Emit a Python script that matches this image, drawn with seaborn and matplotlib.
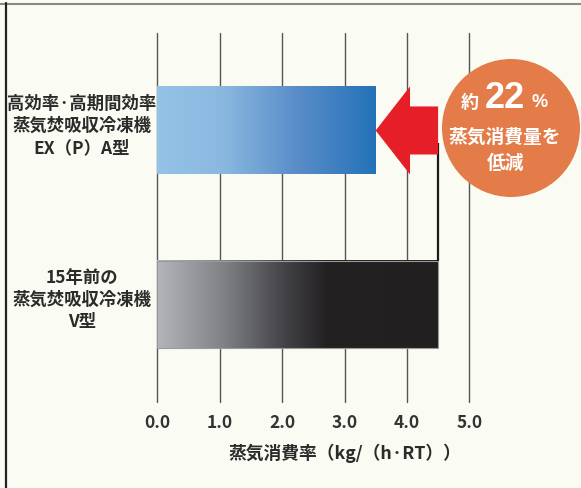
import numpy as np
import matplotlib
matplotlib.use("Agg")
import matplotlib.pyplot as plt
import seaborn as sns
import pandas as pd
from matplotlib.colors import LinearSegmentedColormap
from matplotlib.patches import Polygon, Ellipse
from matplotlib.lines import Line2D
import matplotlib.transforms as mtransforms

# ---- data ----
categories = ["高効率·高期間効率\n蒸気焚吸収冷凍機\nEX（P）A型", "15年前の\n蒸気焚吸収冷凍機\nV型"]
values = [3.5, 4.5]
xticks = [0.0, 1.0, 2.0, 3.0, 4.0, 5.0]
xtick_labels = ["0.0", "1.0", "2.0", "3.0", "4.0", "5.0"]
xlabel = "蒸気消費率（kg/（h·RT））"
reduction_pct = "22"
badge_prefix = "約"
badge_suffix = "%"
badge_lines = ["蒸気消費量を", "低減"]

sns.set_theme(style="white")
plt.rcParams["font.family"] = ["Noto Sans CJK JP", "DejaVu Sans"]

W, H = 581, 488
bg = "#FAFBF3"
fig = plt.figure(figsize=(W / 100, H / 100), dpi=100, facecolor=bg)
ax = fig.add_axes([157.3 / W, 1 - 402 / H, (469.3 - 157.3) / W, (402 - 33) / H])
ax.set_facecolor(bg)

df = pd.DataFrame({"cat": categories, "val": values})
sns.barplot(data=df, x="val", y="cat", hue="cat", orient="h",
            palette=["#5b94cc", "#555555"], width=0.503, legend=False, ax=ax, zorder=2)

# gradients
blue_cmap = LinearSegmentedColormap.from_list("b", [
    (0.0, (148/255, 195/255, 231/255)),
    (0.3, (138/255, 184/255, 223/255)),
    (0.65, (88/255, 140/255, 200/255)),
    (1.0, (36/255, 114/255, 185/255))])
gray_cmap = LinearSegmentedColormap.from_list("g", [
    (0.0, (180/255, 181/255, 186/255)),
    (0.25, (125/255, 126/255, 130/255)),
    (0.45, (68/255, 68/255, 72/255)),
    (0.6, (36/255, 33/255, 35/255)),
    (1.0, (34/255, 31/255, 33/255))])
cmaps = [blue_cmap, gray_cmap]
grad = np.linspace(0, 1, 256).reshape(1, -1)
for i, p in enumerate(ax.patches[:len(values)]):
    x0, y0, w, h = p.get_x(), p.get_y(), p.get_width(), p.get_height()
    ax.imshow(grad, cmap=cmaps[i], aspect="auto", extent=(x0, x0 + w, y0 + h, y0),
              zorder=2.5, interpolation="bicubic")
    p.set_facecolor("none")
    if i == 1:
        p.set_edgecolor("#9a9a9a")
        p.set_linewidth(0.8)
        p.set_zorder(3)
    else:
        p.set_edgecolor("none")
ax.set_xlim(0, 5)
ax.set_ylim(1.56, -0.56)

# grid
ax.set_xticks(xticks)
ax.set_xticklabels(xtick_labels, fontsize=12.5, fontweight="bold", color="#333333")
ax.tick_params(axis="x", length=0, pad=9)
ax.set_yticks([])
ax.set_ylabel("")
ax.set_xlabel("")
for xv in xticks:
    ax.axvline(xv, color="#555555", lw=1.0, zorder=1, clip_on=False)
for s in ax.spines.values():
    s.set_visible(False)

# category labels
trans = mtransforms.blended_transform_factory(fig.transFigure, ax.transData)
for i, c in enumerate(categories):
    ax.text(82 / W, i - 0.025, c, transform=trans, ha="center", va="center",
            multialignment="center", fontsize=12.5, fontweight="bold",
            color="#2b2b2b", linespacing=1.27)

fig.text(345 / W, 1 - 453 / H, xlabel, ha="center", va="center",
         fontsize=12.8, fontweight="bold", color="#2b2b2b")

# connector line and arrow
ax.plot([values[1], values[1]], [0.07, 1 - 0.2515], color="#1a1a1a", lw=1.6, zorder=3,
        solid_capstyle="butt")
head_base = 4.05
arrow = Polygon([(values[0], 0), (head_base, -0.253), (head_base, -0.138),
                 (values[1], -0.138), (values[1], 0.138), (head_base, 0.138),
                 (head_base, 0.253)], closed=True, facecolor="#E61E28",
                edgecolor="none", zorder=4)
ax.add_patch(arrow)

# badge
fig.add_artist(Ellipse((511 / W, 1 - 128 / H), 2 * 69 / W, 2 * 69 / H,
                       transform=fig.transFigure, facecolor="#E47C4A", edgecolor="none",
                       zorder=5))
fig.text(470 / W, 1 - 108 / H, badge_prefix, ha="center", va="baseline", fontsize=13,
         fontweight="bold", color="white", zorder=6)
fig.text(504.5 / W, 1 - 108 / H, reduction_pct, ha="center", va="baseline", fontsize=26,
         fontweight="bold", color="white", zorder=6, family=["Liberation Sans", "DejaVu Sans"])
fig.text(540 / W, 1 - 107 / H, badge_suffix, ha="center", va="baseline", fontsize=13,
         fontweight="bold", color="white", zorder=6, family=["Liberation Sans", "DejaVu Sans"])
fig.text(505 / W, 1 - 137 / H, badge_lines[0], ha="center", va="center", fontsize=13.5,
         fontweight="bold", color="white", zorder=6)
fig.text(506 / W, 1 - 163 / H, badge_lines[1], ha="center", va="center", fontsize=13.5,
         fontweight="bold", color="white", zorder=6)

# frame lines
fig.add_artist(Line2D([0, 1], [1 - 3.5 / H, 1 - 3.5 / H], transform=fig.transFigure,
                      color="#8a8a82", lw=1.5))
fig.add_artist(Line2D([5.5 / W, 5.5 / W], [0, 1 - 3 / H], transform=fig.transFigure,
                      color="#222222", lw=1.6))

fig.savefig("out.png", dpi=100, facecolor=bg)
